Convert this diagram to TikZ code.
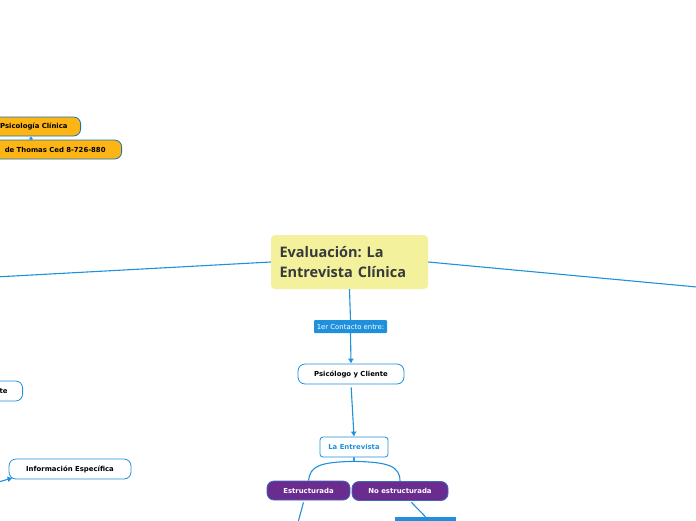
\documentclass[tikz,border=0pt]{standalone}
\usepackage{fontspec}
\setmainfont{DejaVu Sans}
\newfontfamily\titlefont{Open Sans}
\usetikzlibrary{positioning}
\usetikzlibrary{arrows.meta}
\frenchspacing
\definecolor{mapblue}{RGB}{30,144,220}
\definecolor{mapyellow}{RGB}{243,241,155}
\definecolor{maporange}{RGB}{253,181,21}
\definecolor{mappurple}{RGB}{106,45,143}
\definecolor{mapgray}{RGB}{55,58,60}
\tikzset{
    link/.style = {draw=mapblue,line width=1.1pt},
    linka/.style = {-{Latex[length=5pt,width=6pt]},draw=mapblue,line width=1.1pt},
    topic/.style = {rectangle, rounded corners=4pt, fill=mapyellow, text=mapgray, align=left,
                    text width=140pt, inner xsep=8.5pt, minimum height=54pt,
                    font=\titlefont\bfseries\fontsize{14.5}{20}\selectfont},
    tag/.style = {rectangle, rounded corners=1pt, fill=mapblue, text=white, minimum width=73pt, minimum height=13pt,
                  inner sep=1pt, font=\fontsize{6.9}{7}\selectfont},
    leaf/.style = {rectangle, rounded corners=7pt, draw=mapblue, line width=0.8pt, fill=white,
                   minimum height=20pt, inner sep=1pt, font=\bfseries\fontsize{6.9}{8}\selectfont},
    leafb/.style = {rectangle, rounded corners=3pt, draw=mapblue, line width=0.8pt, fill=white,
                    text=mapblue, minimum height=20pt, inner sep=1pt, font=\bfseries\fontsize{6.9}{8}\selectfont},
    kind/.style = {rectangle, rounded corners=7pt, draw=mapblue!60!mappurple, line width=0.8pt, fill=mappurple,
                   text=white, minimum height=19pt, inner sep=1pt, font=\bfseries\fontsize{6.9}{8}\selectfont},
    note/.style = {rectangle, rounded corners=7pt, draw=mapblue!80!black, line width=0.8pt, fill=maporange,
                   minimum height=19pt, inner ysep=1pt, inner xsep=16pt, align=right,
                   font=\bfseries\fontsize{6.9}{8}\selectfont}
}
\begin{document}
\begin{tikzpicture}[x=1pt,y=-1pt]
\useasboundingbox (0,0) rectangle (696,520);
\clip (0,0) rectangle (696,520);
\node[topic] at (349.5,262) (eval) {Evaluación: La\\Entrevista Clínica};
\node[tag] at (350.5,326.5) (contacto) {1er Contacto entre:};
\node[leaf, minimum width=106pt] at (351,374) (psicli) {Psicólogo y Cliente};
\node[leafb, minimum width=68pt] at (354,447) (entre) {La Entrevista};
\node[kind, minimum width=83pt] at (308.5,490.5) (estr) {Estructurada};
\node[kind, minimum width=96pt] at (400,491) (noestr) {No estructurada};
\node[rectangle, fill=mapblue, minimum width=61pt, minimum height=26pt] at (425.5,530) (bajo) {};
\node[note, anchor=east, text width=100pt, inner xsep=13pt] at (81,126.5) (psic) {Psicología Clínica};
\node[note, anchor=east, text width=140pt] at (122,149.5) (thomas) {de Thomas Ced 8-726-880};
\node[leaf, anchor=east, text width=60pt, align=right, inner xsep=15pt] at (23,391) (cliente) {te};
\node[leaf, minimum width=122pt] at (70,469) (info) {Información Específica};
%
\coordinate (fueraO) at (-5,277);
\coordinate (fueraE) at (701,287.4);
\coordinate (fueraS) at (296,530);
\coordinate (fueraSO) at (-5,483);
%
\draw[link] (eval.west) -- (fueraO);
\draw[link] (eval.east) -- (fueraE);
\draw[link] (eval.south) -- (contacto.north);
\draw[linka] (contacto.south) -- (psicli.north);
\draw[linka,shorten <=3pt] (psicli.south) -- (entre.north);
\draw[link] (entre.south) -- ++(0,4) .. controls (320,462) and (310,466) .. (estr.north);
\draw[link] (entre.south) -- ++(0,4) .. controls (388,462) and (400,466) .. (noestr.north);
\draw[link,shorten <=2pt] (estr.south -| 304,0) -- (fueraS);
\draw[link,shorten <=2pt] (noestr.south -| 410,0) -- (bajo.north);
\draw[-{Latex[length=3pt,width=5pt]},draw=mapblue,line width=0.8pt] (thomas.north -| 31,0) -- (psic.south -| 31,0);
\draw[linka] (fueraSO) -- ([xshift=4pt,yshift=1.5pt]info.south west);
\end{tikzpicture}
\end{document}
